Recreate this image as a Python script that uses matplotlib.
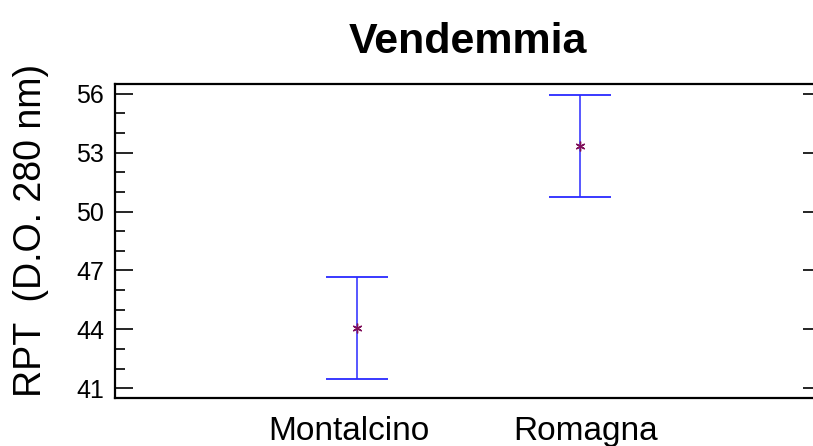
import matplotlib

matplotlib.use("Agg")
import matplotlib.pyplot as plt
import matplotlib.transforms as mtransforms
from matplotlib.ticker import MultipleLocator

plt.rcParams["font.family"] = ["Liberation Sans", "DejaVu Sans"]

# group means with interval limits
groups = ["Montalcino", "Romagna"]
means = [44.08, 53.36]
lower = [41.46, 50.76]
upper = [46.65, 55.95]

positions = [1, 2]
err_low = [m - lo for m, lo in zip(means, lower)]
err_high = [hi - m for m, hi in zip(means, upper)]

fig = plt.figure(figsize=(8.13, 4.46), dpi=100)
ax = fig.add_axes([0.1415, 0.1076, 0.868, 0.7041])

ax.errorbar(
    positions,
    means,
    yerr=[err_low, err_high],
    fmt="none",
    ecolor="#2a2aff",
    elinewidth=1.1,
    capsize=22,
    capthick=1.3,
)
ax.plot(positions, means, linestyle="none", marker=(6, 2, 0), markersize=7,
        color="#80105a", markeredgewidth=1)

ax.set_xlim(-0.085, 3.081)
ax.set_ylim(40.5, 56.5)
ax.set_xticks(positions)
ax.set_xticklabels(groups, fontsize=24)
ax.set_yticks([41, 44, 47, 50, 53, 56])
ax.yaxis.set_minor_locator(MultipleLocator(1))
ax.tick_params(axis="x", length=0, pad=13)
ax.tick_params(axis="y", which="major", direction="in", length=13, width=1.2,
               labelsize=18, pad=8, right=True)
ax.tick_params(axis="y", which="minor", direction="in", length=7, width=1.2)

# the category labels sit a little apart from their bars in the original
for label, dx in zip(ax.get_xticklabels(), [-8, 6]):
    shift = mtransforms.ScaledTranslation(dx / 100, 0, fig.dpi_scale_trans)
    label.set_transform(label.get_transform() + shift)

for side in ["top", "bottom", "left"]:
    ax.spines[side].set_linewidth(1.6)
ax.spines["right"].set_visible(False)

ax.set_ylabel("RPT  (D.O. 280 nm)", fontsize=27)
ax.yaxis.set_label_coords(-0.094, 0.535)
ax.set_title("Vendemmia", fontsize=31, fontweight="bold", pad=22)

fig.savefig("out.png", dpi=100)
plt.close(fig)
